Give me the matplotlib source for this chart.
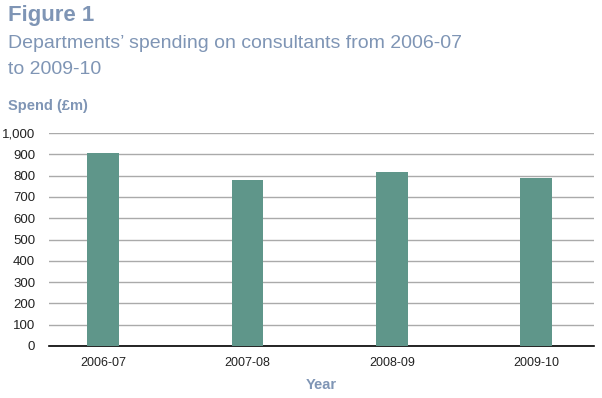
import matplotlib
matplotlib.use("Agg")
import matplotlib.pyplot as plt

years = ["2006-07", "2007-08", "2008-09", "2009-10"]
spend = [906, 779, 817, 789]
yticks = [0, 100, 200, 300, 400, 500, 600, 700, 800, 900, 1000]

plt.rcParams['font.family'] = ['Liberation Sans', 'DejaVu Sans']
fig = plt.figure(figsize=(6.02, 3.98), dpi=100)
W, H = 602, 398
ax = fig.add_axes([49 / W, 1 - 346 / H, (594 - 49) / W, (346 - 133) / H])

bar_color = "#5f968a"
title_color = "#7f95b5"
x = list(range(len(years)))
ax.bar(x, spend, width=0.22, color=bar_color, zorder=3)
ax.set_xlim(-0.375, 3.4)
ax.set_ylim(0, 1000)
ax.set_yticks(yticks)
ax.set_yticklabels([f"{v:,}" for v in yticks])
ax.set_xticks(x)
ax.set_xticklabels(years)
ax.grid(axis="y", color="#aaaaaa", linewidth=1, zorder=0)
for s in ["top", "right", "left"]:
    ax.spines[s].set_visible(False)
ax.spines["bottom"].set_color("black")
ax.spines["bottom"].set_linewidth(1.2)
ax.tick_params(axis="both", length=0, labelsize=9.5, colors="#222222")
ax.tick_params(axis="y", pad=10)
ax.tick_params(axis="x", labelsize=9, pad=8)

fig.text(8 / W, 1 - 15 / H, "Figure 1", fontsize=16, fontweight="bold", color=title_color, va="center")
fig.text(8 / W, 1 - 43 / H, "Departments\u2019 spending on consultants from 2006-07", fontsize=14, color=title_color, va="center")
fig.text(8 / W, 1 - 70 / H, "to 2009-10", fontsize=14, color=title_color, va="center")
fig.text(8 / W, 1 - 106 / H, "Spend (\u00a3m)", fontsize=10.5, fontweight="bold", color=title_color, va="center")
fig.text(321 / W, 1 - 385 / H, "Year", fontsize=10.5, fontweight="bold", color=title_color, va="center", ha="center")

fig.savefig("out.png", dpi=100)
